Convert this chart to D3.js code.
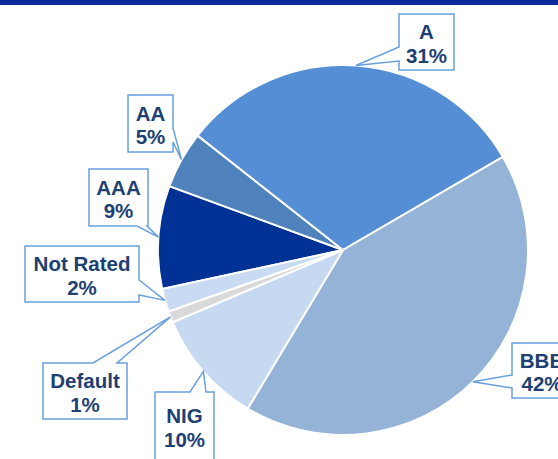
<!DOCTYPE html>
<html>
<head>
<meta charset="utf-8">
<script src="https://cdn.jsdelivr.net/npm/d3@7"></script>
<style>
  html, body { margin: 0; padding: 0; background: #fff; }
  svg { display: block; }
</style>
</head>
<body>
<svg width="558" height="459"></svg>
<script>
// rating buckets, clockwise from the AAA slice
var categories = ["AAA", "AA", "A", "BBB", "NIG", "Default", "Not Rated"];
var shares = [9, 5, 31, 42, 10, 1, 2];
var colors = ["#003296", "#4f81bd", "#558ed5", "#95b3d7", "#c6d9f1", "#d9d9d9", "#c9dbf2"];

// callout boxes: x, y, w, h, side the pointer leaves from, pointer base (along that side)
var callouts = [
  {x: 89,  y: 169, w: 59,  h: 57, side: "bottom", b: [137, 147]},
  {x: 128, y: 95,  w: 45,  h: 57, side: "right",  b: [128, 142]},
  {x: 399, y: 14,  w: 55,  h: 56, side: "left",   b: [47, 61]},
  {x: 512, y: 343, w: 60,  h: 55, side: "left",   b: [375, 388]},
  {x: 155, y: 392, w: 59,  h: 68, side: "top",    b: [190, 206]},
  {x: 43,  y: 363, w: 84,  h: 56, side: "top",    b: [93, 117]},
  {x: 25,  y: 246, w: 114, h: 56, side: "right",  b: [280, 295]}
];

var svg = d3.select("svg"),
    width = +svg.attr("width"),
    height = +svg.attr("height");

var cx = 343, cy = 250, radius = 185;

// dark band along the top
svg.append("rect")
    .attr("x", 0).attr("y", 0)
    .attr("width", width).attr("height", 5)
    .attr("fill", "#0b2b98");

var pie = d3.pie()
    .sort(null)
    .value(function (d) { return d; })
    .startAngle(-102.2 * Math.PI / 180)
    .endAngle((360 - 102.2) * Math.PI / 180);

var arcs = pie(shares);

var arc = d3.arc().innerRadius(0).outerRadius(radius);
var edge = d3.arc().innerRadius(radius).outerRadius(radius);

var g = svg.append("g").attr("transform", "translate(" + cx + "," + cy + ")");

g.selectAll("path.slice")
    .data(arcs)
    .enter().append("path")
    .attr("class", "slice")
    .attr("d", arc)
    .attr("fill", function (d, i) { return colors[i]; })
    .attr("stroke", "#fff")
    .attr("stroke-width", 2);

// outline of a box with a wedge pointing at (tx, ty)
function calloutPath(c, tx, ty) {
  var x0 = c.x, y0 = c.y, x1 = c.x + c.w, y1 = c.y + c.h;
  var b = c.b.slice().sort(d3.ascending);
  var pts = [[x0, y0]];
  if (c.side == "top") pts.push([b[0], y0], [tx, ty], [b[1], y0]);
  pts.push([x1, y0]);
  if (c.side == "right") pts.push([x1, b[0]], [tx, ty], [x1, b[1]]);
  pts.push([x1, y1]);
  if (c.side == "bottom") pts.push([b[1], y1], [tx, ty], [b[0], y1]);
  pts.push([x0, y1]);
  if (c.side == "left") pts.push([x0, b[1]], [tx, ty], [x0, b[0]]);
  return "M" + pts.map(function (p) { return p.join(","); }).join("L") + "Z";
}

var labels = svg.append("g").attr("class", "labels");

arcs.forEach(function (d, i) {
  var c = callouts[i];
  var tip = edge.centroid(d);
  var tx = tip[0] + cx, ty = tip[1] + cy;

  labels.append("path")
      .attr("d", calloutPath(c, tx, ty))
      .attr("fill", "#fff")
      .attr("stroke", "#6a9fde")
      .attr("stroke-width", 1.5)
      .attr("stroke-linejoin", "miter");

  var mid = c.y + c.h / 2;
  var t = labels.append("text")
      .attr("x", c.x + c.w / 2)
      .attr("text-anchor", "middle")
      .attr("font-family", "Liberation Sans, Arial, sans-serif")
      .attr("font-weight", "bold")
      .attr("font-size", "20.5px")
      .attr("fill", "#203f73");
  t.append("tspan").attr("x", c.x + c.w / 2).attr("y", mid - 3).text(categories[i]);
  t.append("tspan").attr("x", c.x + c.w / 2).attr("y", mid + 20.5).text(shares[i] + "%");
});
</script>
</body>
</html>
